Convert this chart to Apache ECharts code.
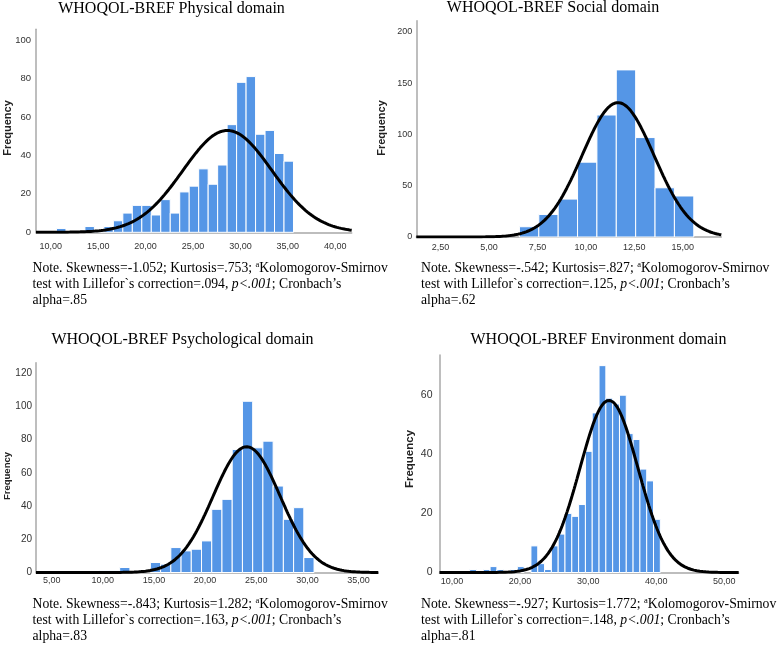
<!DOCTYPE html>
<html><head><meta charset="utf-8">
<script src="https://cdn.jsdelivr.net/npm/echarts@6/dist/echarts.min.js"></script>
<style>html,body{margin:0;padding:0;background:#fff}#c{width:784px;height:645px}</style>
</head><body><div id="c"></div>
<script>
// ---- Data ----
// Physical domain
const physBins   = [11,14,15,16,17,18,19,20,21,22,23,24,25,26,27,28,29,30,31,32,33,34,35];
const physCounts = [2,3,1,3,6,10,14,14,9,17,10,21,24,33,25,35,56,78,81,51,53,41,37];
const physNormal = [28.63, 4.70];           // mean, sd of fitted normal curve
const physXTicks = [10,15,20,25,30,35,40];
const physYTicks = [0,20,40,60,80,100];
// Social domain
const socBins   = [4,5,7,8,9,10,11,12,13,14,15];
const socCounts = [1,1,10,22,37,73,119,163,97,48,40];
const socNormal = [11.66, 1.86];
const socXTicks = [2.5,5,7.5,10,12.5,15];
const socYTicks = [0,50,100,150,200];
// Psychological domain
const psyBins   = [10,11,12,15,16,17,18,19,20,21,22,23,24,25,26,27,28,29,30];
const psyCounts = [1,1,3,6,5,15,13,14,19,38,44,74,103,75,79,52,32,39,9];
const psyNormal = [24.06, 3.28];
const psyXTicks = [5,10,15,20,25,30,35];
const psyYTicks = [0,20,40,60,80,100,120];
// Environment domain
const envBins   = [13,15,16,17,19,20,22,23,24,25,26,27,28,29,30,31,32,33,34,35,36,37,38,39,40];
const envCounts = [1,1,2,1,1,2,9,3,1,9,13,20,19,23,41,54,70,59,57,60,47,45,35,31,18];
const envNormal = [33.06, 4.26];
const envXTicks = [10,20,30,40,50];
const envYTicks = [0,20,40,60];

const titles = ['WHOQOL-BREF Physical domain','WHOQOL-BREF Social domain','WHOQOL-BREF Psychological domain','WHOQOL-BREF Environment domain'];
const skewness = ['-1.052','-.542','-.843','-.927'];
const kurtosis = ['.753','.827','1.282','1.772'];
const ksStat   = ['.094','.125','.163','.148'];
const alphas   = ['.85','.62','.83','.81'];

// ---- Layout ----
const SANS = '"Liberation Sans", Arial, sans-serif';
const SERIF = '"Liberation Serif", "Times New Roman", serif';
const panels = [
  {bins:physBins, counts:physCounts, normal:physNormal, xTicks:physXTicks, yTicks:physYTicks,
   grid:{left:36, top:29.3, width:315.7, height:203}, xMin:8.44, xMax:41.74, yMax:105.6, shift:0.1,
   xMargin:10, yMargin:5, yFont:9.5, title:[171.5,8.7], freq:[8.3,128,11], note:[32.5,268]},
  {bins:socBins, counts:socCounts, normal:socNormal, xTicks:socXTicks, yTicks:socYTicks,
   grid:{left:416.3, top:20.7, width:305, height:216.3}, xMin:1.247, xMax:16.99, yMax:211, shift:0.07,
   xMargin:6, yMargin:4, yFont:9, title:[553,7.5], freq:[382,128,11], note:[421,268]},
  {bins:psyBins, counts:psyCounts, normal:psyNormal, xTicks:psyXTicks, yTicks:psyYTicks,
   grid:{left:36, top:362.7, width:342.3, height:209.8}, xMin:3.47, xMax:36.93, yMax:126.2, shift:0.15,
   xMargin:4, yMargin:4, yFont:10, title:[182.5,340], freq:[7.5,476,9.5], note:[32.5,604]},
  {bins:envBins, counts:envCounts, normal:envNormal, xTicks:envXTicks, yTicks:envYTicks,
   grid:{left:439.5, top:355, width:299.2, height:217.5}, xMin:8.17, xMax:52.11, yMax:73.6, shift:0.1,
   xMargin:5, yMargin:7, yFont:10.5, title:[598.5,340], freq:[409.5,459,11.5], note:[421,604]}
];

const grids=[], xAxes=[], yAxes=[], series=[], graphics=[];
const axisLineStyle = {color:'#a8a8a8', width:1.5};

function renderBar(params, api){
  const c = api.value(0), n = api.value(1);
  const p0 = api.coord([c - 0.5, n]);
  const p1 = api.coord([c + 0.5, 0]);
  return {type:'rect', shape:{x:p0[0], y:p0[1], width:p1[0]-p0[0], height:p1[1]-p0[1]},
          style:{fill:'#5596e6', stroke:'#ffffff', lineWidth:1}};
}

panels.forEach((p, i) => {
  grids.push(Object.assign({containLabel:false}, p.grid));
  xAxes.push({type:'value', gridIndex:i, min:p.xMin, max:p.xMax,
    axisLine:{show:true, lineStyle:axisLineStyle}, axisTick:{show:false}, splitLine:{show:false},
    axisLabel:{customValues:p.xTicks, margin:p.xMargin, fontSize:9, fontFamily:SANS, color:'#333',
      formatter: v => v.toFixed(2).replace('.', ',')}});
  yAxes.push({type:'value', gridIndex:i, min:0, max:p.yMax,
    axisLine:{show:true, lineStyle:axisLineStyle}, axisTick:{show:false}, splitLine:{show:false},
    axisLabel:{customValues:p.yTicks, margin:p.yMargin, fontSize:p.yFont, fontFamily:SANS, color:'#333',
      formatter: v => String(v)}});
  const barData = p.bins.map((b, k) => [b + p.shift, p.counts[k]]);
  series.push({type:'custom', xAxisIndex:i, yAxisIndex:i, renderItem:renderBar, data:barData, z:2, silent:true});
  // fitted normal curve from mean, sd and total N (bin width 1)
  const N = p.counts.reduce((a,b)=>a+b,0);
  const mu = p.normal[0], sd = p.normal[1];
  const curve = [];
  const steps = 300;
  for (let s=0; s<=steps; s++){
    const x = p.xMin + (p.xMax - p.xMin)*s/steps;
    const y = N/(sd*Math.sqrt(2*Math.PI))*Math.exp(-0.5*Math.pow((x-mu)/sd,2));
    curve.push([x, y]);
  }
  series.push({type:'line', xAxisIndex:i, yAxisIndex:i, data:curve, showSymbol:false, symbol:'none',
    lineStyle:{color:'#000', width:3}, z:3, silent:true});
  // title
  graphics.push({type:'text', x:p.title[0], y:p.title[1], style:{text:titles[i], font:'16px '+SERIF, fill:'#000', align:'center', verticalAlign:'middle'}});
  // y axis name
  graphics.push({type:'text', x:p.freq[0], y:p.freq[1], rotation:Math.PI/2,
    style:{text:'Frequency', font:'bold '+p.freq[2]+'px '+SANS, fill:'#222', align:'center', verticalAlign:'middle'}});
  // note
  const rich = {
    n:{fontFamily:SERIF, fontSize:13.7, color:'#000'},
    s:{fontFamily:SERIF, fontSize:8.5, color:'#000', verticalAlign:'top', padding:[0,0,7,0]},
    i:{fontFamily:SERIF, fontSize:13.7, fontStyle:'italic', color:'#000'}
  };
  const lines = [
    '{n|Note. Skewness='+skewness[i]+'; Kurtosis='+kurtosis[i]+'; }{s|a}{n|Kolomogorov-Smirnov}',
    '{n|test with Lillefor`s correction='+ksStat[i]+', }{i|p<.001}{n|; Cronbach\u2019s}',
    '{n|alpha='+alphas[i]+'}'
  ];
  lines.forEach((t, k) => {
    graphics.push({type:'text', x:p.note[0], y:p.note[1] + k*16,
      style:{text:t, rich:rich, align:'left', verticalAlign:'middle'}});
  });
});

const chart = echarts.init(document.getElementById('c'), null, {renderer:'canvas'});
chart.setOption({animation:false, backgroundColor:'#fff', grid:grids, xAxis:xAxes, yAxis:yAxes, series:series, graphic:graphics});
</script></body></html>
